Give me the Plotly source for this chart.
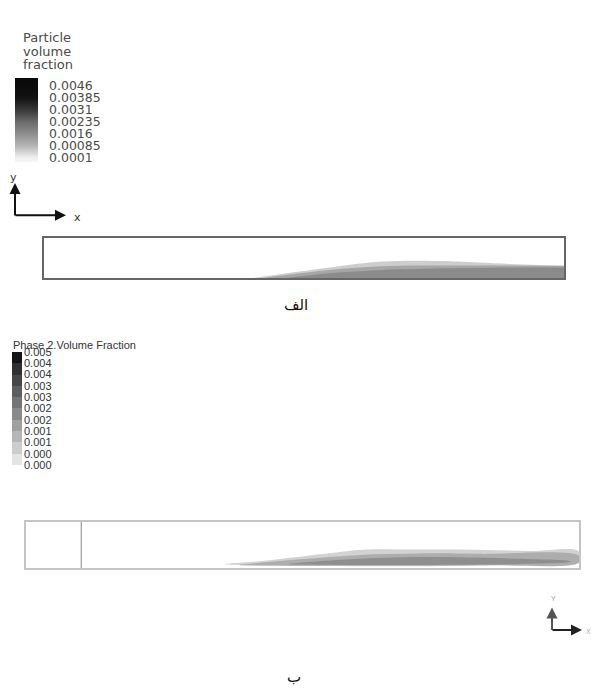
import plotly.graph_objects as go

W, H = 591, 696

# ---------------- data ----------------
# Panel (الف) legend
a_cb_values = [0.0046, 0.00385, 0.0031, 0.00235, 0.0016, 0.00085, 0.0001]
a_cb_labels = ["0.0046", "0.00385", "0.0031", "0.00235", "0.0016", "0.00085", "0.0001"]

# Panel (ب) legend: level boundaries and their printed labels
b_cb_levels = [0.005, 0.0045, 0.004, 0.0035, 0.003, 0.0025, 0.002, 0.0015, 0.001, 0.0005, 0.0]
b_cb_labels = ["0.005", "0.004", "0.004", "0.003", "0.003", "0.002", "0.002", "0.001", "0.001", "0.000", "0.000"]

# Panel (الف) particle layer outlines: x along channel (0-10), height fraction (0-1)
a_outer_x = [4.0, 4.73, 5.5, 6.52, 7.62, 8.33, 9.21, 10.0]
a_outer_y = [0.0, 0.134, 0.268, 0.415, 0.427, 0.39, 0.341, 0.317]
a_mid_x = [4.19, 4.92, 5.69, 6.65, 7.81, 10.0]
a_mid_y = [0.0, 0.122, 0.232, 0.305, 0.317, 0.305]
a_core_x = [4.63, 5.5, 6.85, 8.19, 10.0]
a_core_y = [0.0, 0.122, 0.22, 0.256, 0.268]

# Panel (ب) plume outlines: top and bottom edges
b_outer_top_x = [3.6, 4.23, 5.32, 6.09, 7.12, 8.16, 9.11, 10.0]
b_outer_top_y = [0.085, 0.149, 0.30, 0.40, 0.405, 0.40, 0.37, 0.36]
b_outer_bot_x = [3.6, 4.95, 7.67, 9.11, 10.0]
b_outer_bot_y = [0.085, 0.05, 0.045, 0.085, 0.117]
b_mid_top_x = [3.87, 4.95, 6.04, 7.12, 8.21, 10.0]
b_mid_top_y = [0.074, 0.191, 0.287, 0.319, 0.309, 0.266]
b_mid_bot_x = [3.87, 8.21, 10.0]
b_mid_bot_y = [0.06, 0.06, 0.128]
b_core_top_x = [4.77, 5.68, 6.76, 7.85, 8.93, 9.84]
b_core_top_y = [0.096, 0.181, 0.234, 0.234, 0.202, 0.149]
b_core_bot_x = [4.77, 6.76, 8.93, 9.84]
b_core_bot_y = [0.08, 0.07, 0.09, 0.138]

inlet_x = 1.0  # inlet section line in panel (ب)


def px(x):
    return x / W


def py(y):
    return 1 - y / H


fig = go.Figure()

# ---- panel A plume (axes x/y) ----
for xs, ys, col in [(a_outer_x, a_outer_y, "#cdcdcd"),
                    (a_mid_x, a_mid_y, "#a6a6a6"),
                    (a_core_x, a_core_y, "#8b8b8b")]:
    fig.add_trace(go.Scatter(x=xs, y=ys, mode="lines", line=dict(width=0, shape="spline"),
                             fill="tozeroy", fillcolor=col, hoverinfo="skip",
                             xaxis="x", yaxis="y"))

# ---- panel B plume (axes x2/y2) ----
for tx, ty, bx, by, col in [(b_outer_top_x, b_outer_top_y, b_outer_bot_x, b_outer_bot_y, "#d2d2d2"),
                            (b_mid_top_x, b_mid_top_y, b_mid_bot_x, b_mid_bot_y, "#adadad"),
                            (b_core_top_x, b_core_top_y, b_core_bot_x, b_core_bot_y, "#8f8f8f")]:
    fig.add_trace(go.Scatter(x=tx + bx[::-1], y=ty + by[::-1], mode="lines",
                             line=dict(width=0, shape="spline"),
                             fill="toself", fillcolor=col, hoverinfo="skip",
                             xaxis="x2", yaxis="y2"))

fig.add_trace(go.Scatter(x=[inlet_x, inlet_x], y=[0, 1], mode="lines",
                         line=dict(color="#9a9a9a", width=1.2), hoverinfo="skip",
                         xaxis="x2", yaxis="y2"))

# ---- colour bar A: native Plotly colour bar of a legend-only heatmap ----
a_zmin = a_cb_values[-1] - 0.00025
a_zmax = a_cb_values[0] + 0.0005
a_colors = ["#0b0b0b", "#121212", "#383838", "#6c6c6c", "#8e8e8e", "#b6b6b6", "#f0f0f0"]
a_scale = [[0.0, "#f6f6f6"]]
for v, c in sorted(zip(a_cb_values, a_colors)):
    a_scale.append([(v - a_zmin) / (a_zmax - a_zmin), c])
a_scale.append([1.0, "#0a0a0a"])
fig.add_trace(go.Heatmap(x=[0, 1], y=a_cb_values, z=[[v, v] for v in a_cb_values],
                         colorscale=a_scale, zmin=a_zmin, zmax=a_zmax, zsmooth="best",
                         showscale=True, hoverinfo="skip", xaxis="x3", yaxis="y3",
                         colorbar=dict(
                             x=px(15), xanchor="left", xref="paper",
                             y=py(73), yanchor="top", yref="paper",
                             len=84, lenmode="pixels", thickness=23, thicknessmode="pixels",
                             xpad=0, ypad=0, outlinewidth=0,
                             tickvals=a_cb_values, ticktext=a_cb_labels,
                             ticks="outside", ticklen=9, tickcolor="rgba(0,0,0,0)",
                             tickfont=dict(family="DejaVu Sans", size=12.5, color="#4a4a4a"))))

# ---- colour bar B (axes x4/y4), discrete bands ----
b_levels_asc = b_cb_levels[::-1]
b_mids = [(b_levels_asc[i] + b_levels_asc[i + 1]) / 2 for i in range(len(b_levels_asc) - 1)]
b_colors = ["#e4e4e4", "#cdcdcd", "#b6b6b6", "#a0a0a0", "#8a8a8a",
            "#747474", "#5e5e5e", "#474747", "#303030", "#151515"]
n = len(b_colors)
b_scale = []
for i, c in enumerate(b_colors):
    b_scale.append([i / n, c])
    b_scale.append([(i + 1) / n, c])
fig.add_trace(go.Heatmap(x=[0, 1], y=b_levels_asc, z=[[m] for m in b_mids],
                         colorscale=b_scale, zmin=b_levels_asc[0], zmax=b_levels_asc[-1],
                         showscale=False, hoverinfo="skip", xaxis="x4", yaxis="y4"))

hidden = dict(showgrid=False, zeroline=False, showticklabels=False, ticks="")

fig.update_layout(
    width=W, height=H, autosize=False,
    margin=dict(l=0, r=0, t=0, b=0),
    paper_bgcolor="white", plot_bgcolor="white",
    showlegend=False,
    xaxis=dict(domain=[px(44), px(564)], range=[0, 10], anchor="y",
               showline=True, mirror=True, linecolor="#666666", linewidth=1.5, **hidden),
    yaxis=dict(domain=[py(277), py(236)], range=[0, 1], anchor="x",
               showline=True, mirror=True, linecolor="#666666", linewidth=1.5, **hidden),
    xaxis2=dict(domain=[px(26), px(579)], range=[0, 10], anchor="y2",
                showline=True, mirror=True, linecolor="#c4c4c4", linewidth=1.8, **hidden),
    yaxis2=dict(domain=[py(572), py(525)], range=[0, 1], anchor="x2",
                showline=True, mirror=True, linecolor="#c4c4c4", linewidth=1.8, **hidden),
    # host axes of the legend-only heatmap: range kept away from its cells
    xaxis3=dict(domain=[px(15), px(38)], range=[10, 11], anchor="y3", visible=False),
    yaxis3=dict(domain=[py(157), py(73)], range=[10, 11], anchor="x3", visible=False),
    xaxis4=dict(domain=[px(12), px(22)], range=[0, 1], anchor="y4", visible=False),
    yaxis4=dict(domain=[py(467), py(352)], range=[0, 0.005],
                anchor="x4", side="right", showgrid=False, zeroline=False, showline=False,
                ticks="", tickvals=b_cb_levels, ticktext=b_cb_labels, ticklabelstandoff=1,
                tickfont=dict(family="Liberation Sans, Arial", size=11, color="#333333")),
)

ann = []


def text(x, y, s, size, color, family="DejaVu Sans", xanchor="center"):
    ann.append(dict(x=px(x), y=py(y), xref="paper", yref="paper", text=s, showarrow=False,
                    xanchor=xanchor, yanchor="middle",
                    font=dict(family=family, size=size, color=color)))


def arrow(x0, y0, x1, y1, color, width):
    # head at (x1, y1), tail offset in screen pixels
    ann.append(dict(x=px(x1), y=py(y1), ax=x0 - x1, ay=y0 - y1, xref="paper", yref="paper",
                    axref="pixel", ayref="pixel", text="", showarrow=True,
                    arrowhead=2, arrowsize=1.1, arrowwidth=width, arrowcolor=color))


# legend A title
text(21, 32, "Particle", 13, "#4a4a4a", xanchor="left")
text(21, 46, "volume", 13, "#4a4a4a", xanchor="left")
text(21, 60, "fraction", 13, "#4a4a4a", xanchor="left")

# legend B title
text(11, 345, "Phase 2.Volume Fraction", 11, "#333333", family="Liberation Sans, Arial",
     xanchor="left")

# axis triad A
arrow(15, 214, 15, 180, "#111111", 2)
arrow(14, 213, 66, 213, "#111111", 2)
text(13, 174, "y", 11, "#333333")
text(77, 215, "x", 11, "#333333")

# axis triad B
arrow(552, 636, 552, 612, "#555555", 2)
arrow(551, 635, 582, 635, "#222222", 2)
text(553, 603, "Y", 7, "#999999", family="Liberation Sans, Arial")
text(588, 636, "X", 7, "#aaaaaa", family="Liberation Sans, Arial")

# panel captions
text(296, 304, "الف", 15, "#111111")
text(294, 683, "ب", 15, "#111111")

fig.update_layout(annotations=ann)

fig.write_html("out.html", config={"displayModeBar": False},
               post_script="document.body.style.margin='0';document.body.style.overflow='hidden';")
